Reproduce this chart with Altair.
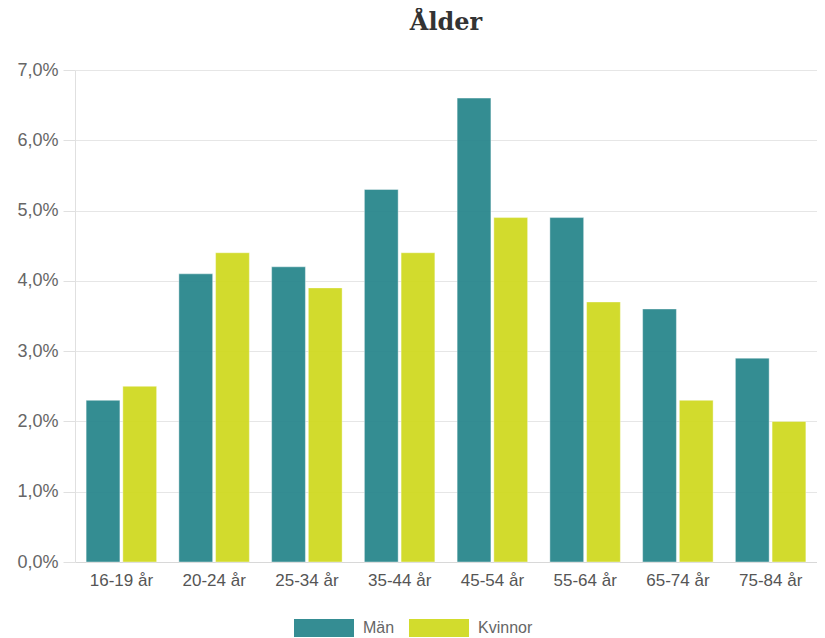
import altair as alt
import pandas as pd

categories = ["16-19 år", "20-24 år", "25-34 år", "35-44 år", "45-54 år", "55-64 år", "65-74 år", "75-84 år"]
series = ["Män", "Kvinnor"]
man = [2.3, 4.1, 4.2, 5.3, 6.6, 4.9, 3.6, 2.9]
kvinnor = [2.5, 4.4, 3.9, 4.4, 4.9, 3.7, 2.3, 2.0]
colors = ["#2a878d", "#d0da22"]

rows = []
for c, m, k in zip(categories, man, kvinnor):
    rows.append({"Ålder": c, "Kön": "Män", "Andel": m / 100})
    rows.append({"Ålder": c, "Kön": "Kvinnor", "Andel": k / 100})
df = pd.DataFrame(rows)

bars = alt.Chart(df).mark_bar(opacity=0.95, stroke="white", strokeWidth=1, strokeOpacity=0.4).encode(
    x=alt.X("Ålder:N", sort=categories, title=None,
            scale=alt.Scale(paddingInner=0.24, paddingOuter=0.12),
            axis=alt.Axis(labelAngle=0, labelFont="Liberation Sans", labelFontSize=17,
                          labelColor="#555555", labelPadding=10, ticks=False,
                          domainColor="#d8d8d8", grid=False)),
    xOffset=alt.XOffset("Kön:N", sort=series, scale=alt.Scale(paddingInner=0.08)),
    y=alt.Y("Andel:Q", title=None,
            scale=alt.Scale(domain=[0, 0.07], nice=False),
            axis=alt.Axis(values=[0, 0.01, 0.02, 0.03, 0.04, 0.05, 0.06, 0.07],
                          labelExpr="replace(format(datum.value * 100, '.1f'), '.', ',') + '%'",
                          labelFont="Liberation Sans", labelFontSize=18, labelColor="#666666",
                          tickColor="#e0e0e0", tickSize=12, labelPadding=5,
                          domainColor="#e0e0e0", gridColor="#e6e6e6")),
    color=alt.Color("Kön:N", sort=series, scale=alt.Scale(domain=series, range=colors),
                    legend=alt.Legend(title=None, orient="none", direction="horizontal",
                                      legendX=219, legendY=528,
                                      symbolType="M-1,-0.3H1V0.3H-1Z", symbolSize=3600,
                                      symbolStrokeWidth=0, symbolOpacity=0.95,
                                      labelFont="Liberation Sans", labelFontSize=16,
                                      labelColor="#666666", columnPadding=14, labelOffset=9)),
)

chart = bars.properties(
    width=742, height=492,
    title=alt.TitleParams("Ålder", font="DejaVu Serif", fontSize=24, fontWeight="bold",
                          color="#333333", anchor="middle", offset=26),
    autosize=alt.AutoSizeParams(type="none"),
    padding={"left": 67, "top": 62, "right": 0, "bottom": 76},
).configure_view(stroke=None)

chart.save("out.html", embed_options={"renderer": "svg", "actions": False})
